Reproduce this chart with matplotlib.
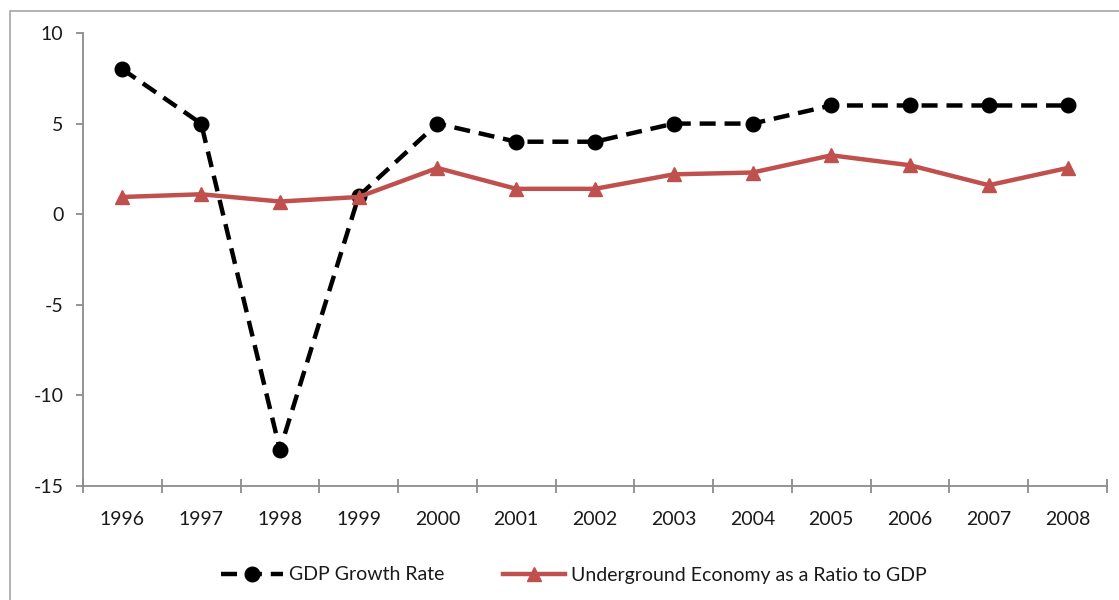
import numpy as np
import matplotlib
matplotlib.use('Agg')
import matplotlib.pyplot as plt
from matplotlib.patches import Rectangle

# data
years = ['1996', '1997', '1998', '1999', '2000', '2001', '2002',
         '2003', '2004', '2005', '2006', '2007', '2008']
gdp_growth = [8, 5, -13, 1, 5, 4, 4, 5, 5, 6, 6, 6, 6]
underground = [0.95, 1.1, 0.7, 0.95, 2.55, 1.4, 1.4, 2.2, 2.3, 3.25, 2.7, 1.6, 2.55]
y_ticks = [-15, -10, -5, 0, 5, 10]

plt.rcParams['font.family'] = ['Lato', 'DejaVu Sans']
plt.rcParams['axes.unicode_minus'] = False

fig = plt.figure(figsize=(11.19, 6.0), dpi=100)
ax = fig.add_axes([83 / 1119, 1 - 486 / 600, (1107 - 83) / 1119, (486 - 33) / 600])

# outer chart frame
fig.patches.append(Rectangle((10 / 1119, -0.1), 1.2, 1.1 - 11 / 600,
                             transform=fig.transFigure, fill=False,
                             edgecolor='#a6a6a6', linewidth=1.2))

x = np.arange(len(years))
ax.plot(x, gdp_growth, color='black', linewidth=3.2, dashes=(3.6, 2.0),
        marker='o', markersize=10.5, label='GDP Growth Rate')
ax.plot(x, underground, color='#c0504d', linewidth=3.2,
        marker='^', markersize=10.5, label='Underground Economy as a Ratio to GDP')

ax.set_xlim(-0.5, len(years) - 0.5)
ax.set_ylim(-15, 10)
ax.set_yticks(y_ticks)
ax.set_xticks(x)
ax.set_xticklabels(years)
ax.set_xticks(np.arange(-0.5, len(years)), minor=True)

for s in ['top', 'right']:
    ax.spines[s].set_visible(False)
for s in ['left', 'bottom']:
    ax.spines[s].set_color('#8c8c8c')
    ax.spines[s].set_linewidth(1.3)

ax.tick_params(axis='y', length=5, width=1.3, color='#8c8c8c', pad=9,
               labelsize=14, labelcolor='#1a1a1a')
ax.tick_params(axis='x', which='major', length=0, pad=18, labelsize=14,
               labelcolor='#1a1a1a')
ax.tick_params(axis='x', which='minor', direction='inout', length=10,
               width=1.3, color='#8c8c8c')

ax.legend(loc='center', bbox_to_anchor=(574 / 1119, 1 - 575 / 600),
          bbox_transform=fig.transFigure, ncol=2, frameon=False,
          fontsize=14, handlelength=3.2, handletextpad=0.3, columnspacing=3.0,
          labelcolor='#1a1a1a')

fig.savefig('out.png', dpi=100)
